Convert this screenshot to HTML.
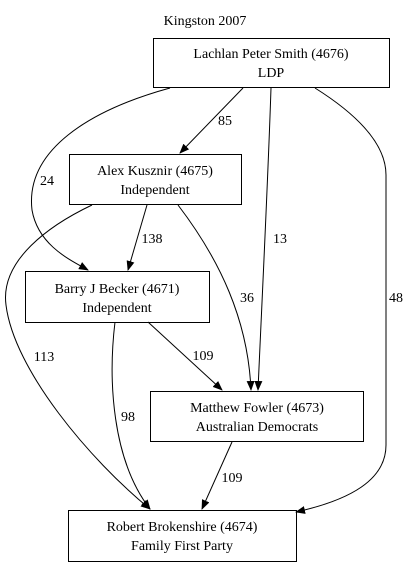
<!DOCTYPE html>
<html><head><meta charset="utf-8"><style>
html,body{margin:0;padding:0;background:#fff;}
svg{display:block;}
text{font-family:"Liberation Serif","Times New Roman",serif;font-size:14px;fill:#000;}
</style></head><body>
<svg width="410" height="567" viewBox="0 0 410 567" xmlns="http://www.w3.org/2000/svg">
<defs><marker id="a" markerWidth="10" markerHeight="8" refX="9" refY="4" orient="auto" markerUnits="userSpaceOnUse"><path d="M0,0 L10,4 L0,8 Z" fill="#000"/></marker></defs>
<text x="205" y="25" text-anchor="middle">Kingston 2007</text>
<g fill="#fff" stroke="#000" stroke-width="1">
<rect x="153.5" y="38.5" width="236" height="49"/>
<rect x="69.5" y="154.5" width="172" height="50"/>
<rect x="25.5" y="271.5" width="184" height="51"/>
<rect x="150.5" y="391.5" width="213" height="50"/>
<rect x="68.5" y="510.5" width="228" height="51"/>
</g>
<g text-anchor="middle">
<text x="271" y="58">Lachlan Peter Smith (4676)</text><text x="271" y="77">LDP</text>
<text x="155" y="175">Alex Kusznir (4675)</text><text x="155" y="194">Independent</text>
<text x="117" y="293">Barry J Becker (4671)</text><text x="117" y="312">Independent</text>
<text x="257" y="412">Matthew Fowler (4673)</text><text x="257" y="431">Australian Democrats</text>
<text x="182" y="531">Robert Brokenshire (4674)</text><text x="182" y="550">Family First Party</text>
</g>
<g fill="none" stroke="#000" stroke-width="1" marker-end="url(#a)">
<path d="M243,88 L180,153"/>
<path d="M170,88 C90,110 25,150 32,210 C38,245 70,260 88,270"/>
<path d="M271,88 C268,180 262,300 258,390"/>
<path d="M315,88 C350,110 386,140 386,175 L386,445 C386,480 350,500 296,512"/>
<path d="M147,205 L128,270"/>
<path d="M178,205 C220,260 248,320 251,390"/>
<path d="M92,205 C50,225 0,260 6,305 C14,370 90,460 150,509"/>
<path d="M148,322 L222,390"/>
<path d="M115,322 C108,380 112,460 150,509"/>
<path d="M232,442 L202,509"/>
</g>
<text x="225" y="125" text-anchor="middle">85</text>
<text x="47" y="185" text-anchor="middle">24</text>
<text x="280" y="243" text-anchor="middle">13</text>
<text x="396" y="302" text-anchor="middle">48</text>
<text x="152" y="243" text-anchor="middle">138</text>
<text x="247" y="302" text-anchor="middle">36</text>
<text x="44" y="361" text-anchor="middle">113</text>
<text x="203" y="360" text-anchor="middle">109</text>
<text x="128" y="421" text-anchor="middle">98</text>
<text x="232" y="482" text-anchor="middle">109</text>
</svg>
</body></html>
